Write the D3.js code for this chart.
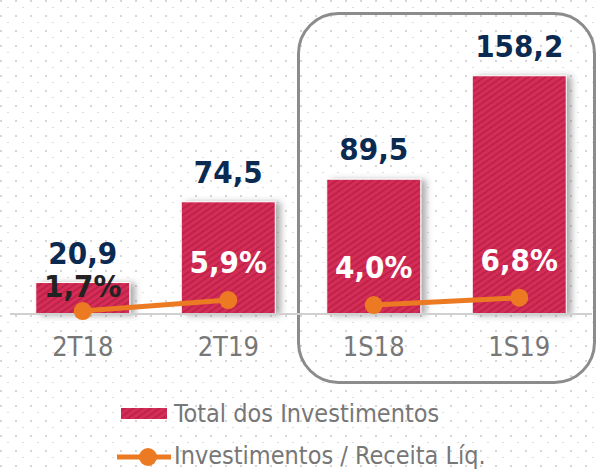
<!DOCTYPE html>
<html>
<head>
<meta charset="utf-8">
<script src="https://cdn.jsdelivr.net/npm/d3@7"></script>
<style>
  body { margin: 0; background: #fff; }
  text { font-family: "DejaVu Sans Condensed", "DejaVu Sans", sans-serif; font-stretch: condensed; }
</style>
</head>
<body>
<div id="chart-area"></div>
<script>

//**************** Data *****************//

let categories = ['2T18', '2T19', '1S18', '1S19'];
let periods = ['T', 'T', 'S', 'S'];
let investimentos = [20.9, 74.5, 89.5, 158.2];
let investLabels = ['20,9', '74,5', '89,5', '158,2'];
let ratio = [1.7, 5.9, 4.0, 6.8];
let ratioLabels = ['1,7%', '5,9%', '4,0%', '6,8%'];
let legendLabels = ['Total dos Investimentos', 'Investimentos / Receita Líq.'];

let data = categories.map((c, i) => ({
	cat: c, period: periods[i], value: investimentos[i],
	label: investLabels[i], pct: ratio[i], pctLabel: ratioLabels[i]
}));


//**************** Canvas *****************//

let width = 597, height = 470;
let baseline = 314;

let svg = d3.select('#chart-area').append('svg')
	.attr('width', width)
	.attr('height', height);

let defs = svg.append('defs');

// dotted background
let dots = defs.append('pattern')
	.attr('id', 'dots')
	.attr('patternUnits', 'userSpaceOnUse')
	.attr('width', 15).attr('height', 15);
dots.append('rect').attr('x', 0).attr('y', 0).attr('width', 2).attr('height', 2).attr('fill', '#d6d6d6');
dots.append('rect').attr('x', 7).attr('y', 7).attr('width', 2).attr('height', 1).attr('fill', '#dedede');

// striped bar fill
let stripes = defs.append('pattern')
	.attr('id', 'stripes')
	.attr('patternUnits', 'userSpaceOnUse')
	.attr('width', 5).attr('height', 5)
	.attr('patternTransform', 'rotate(-35)');
stripes.append('rect').attr('width', 5).attr('height', 5).attr('fill', '#d52d56');
stripes.append('rect').attr('width', 5).attr('height', 2).attr('fill', '#be234b');

let shadow = defs.append('filter')
	.attr('id', 'shadow')
	.attr('x', '-20%').attr('y', '-20%')
	.attr('width', '150%').attr('height', '140%');
shadow.append('feDropShadow')
	.attr('dx', 5).attr('dy', 1)
	.attr('stdDeviation', 3)
	.attr('flood-color', '#444')
	.attr('flood-opacity', 0.45);

svg.append('rect')
	.attr('width', width).attr('height', height)
	.attr('fill', 'url(#dots)');


//**************** Scales *****************//

let x = d3.scaleBand()
	.domain(categories)
	.range([10, 592])
	.paddingInner(0.354)
	.paddingOuter(0.177);

let y = d3.scaleLinear()
	.domain([0, 170])
	.range([baseline, 58]);

let y2 = d3.scaleLinear()
	.domain([0, 10])
	.range([315.5, 289.3]);


// highlight box around the semesters
svg.append('rect')
	.attr('x', 298.5).attr('y', 13.5)
	.attr('width', 296).attr('height', 369)
	.attr('rx', 40).attr('ry', 40)
	.attr('fill', 'none')
	.attr('stroke', '#8c8c8c')
	.attr('stroke-width', 3);


//**************** Bars *****************//

svg.append('g').selectAll('rect')
	.data(data)
	.enter().append('rect')
		.attr('x', d => x(d.cat))
		.attr('y', d => y(d.value))
		.attr('width', x.bandwidth())
		.attr('height', d => baseline - y(d.value))
		.attr('fill', 'url(#stripes)')
		.attr('stroke', '#fff')
		.attr('stroke-width', 1)
		.attr('filter', 'url(#shadow)');

// axis line
let xAxisCall = d3.axisBottom(x).tickSize(0).tickPadding(23);
let xAxisGroup = svg.append('g')
	.attr('transform', 'translate(0, ' + baseline + ')')
	.call(xAxisCall);
xAxisGroup.select('.domain')
	.attr('d', 'M10,0H592')
	.attr('stroke', '#d0d0d0')
	.attr('stroke-width', 2);
xAxisGroup.selectAll('text')
	.attr('font-size', '27px')
	.attr('fill', '#777')
	.attr('dy', '0.71em');
xAxisGroup.attr('font-family', null).attr('font-size', null);


//**************** Line *****************//

let line = d3.line()
	.x(d => x(d.cat) + x.bandwidth() / 2)
	.y(d => y2(d.pct));

let groups = d3.groups(data, d => d.period);

svg.append('g').selectAll('path')
	.data(groups)
	.enter().append('path')
		.attr('d', g => line(g[1]))
		.attr('fill', 'none')
		.attr('stroke', '#ec7a22')
		.attr('stroke-width', 5);

svg.append('g').selectAll('circle')
	.data(data)
	.enter().append('circle')
		.attr('cx', d => x(d.cat) + x.bandwidth() / 2)
		.attr('cy', d => y2(d.pct))
		.attr('r', 9)
		.attr('fill', '#ec7a22');


//**************** Labels *****************//

svg.append('g').selectAll('text')
	.data(data)
	.enter().append('text')
		.attr('x', d => x(d.cat) + x.bandwidth() / 2)
		.attr('y', d => y(d.value) - 19)
		.attr('text-anchor', 'middle')
		.attr('font-size', '31px')
		.attr('font-weight', 'bold')
		.attr('fill', '#0b2a52')
		.text(d => d.label);

svg.append('g').selectAll('text')
	.data(data)
	.enter().append('text')
		.attr('x', d => x(d.cat) + x.bandwidth() / 2)
		.attr('y', (d, i) => y2(d.pct) - (i === 0 ? 14 : 27))
		.attr('text-anchor', 'middle')
		.attr('font-size', '31px')
		.attr('font-weight', 'bold')
		.attr('fill', (d, i) => i === 0 ? '#222' : '#fff')
		.text(d => d.pctLabel);


//**************** Legend *****************//

let legend = svg.append('g');

legend.append('rect')
	.attr('x', 121).attr('y', 408)
	.attr('width', 46).attr('height', 11)
	.attr('fill', 'url(#stripes)');

legend.append('line')
	.attr('x1', 117).attr('x2', 171)
	.attr('y1', 457).attr('y2', 457)
	.attr('stroke', '#ec7a22')
	.attr('stroke-width', 5);

legend.append('circle')
	.attr('cx', 148).attr('cy', 457)
	.attr('r', 9)
	.attr('fill', '#ec7a22');

legend.selectAll('text.leg')
	.data(legendLabels)
	.enter().append('text')
		.attr('class', 'leg')
		.attr('x', 174)
		.attr('y', (d, i) => 422 + i * 42)
		.attr('font-size', '25px')
		.attr('fill', '#777')
		.text(d => d);

</script>
</body>
</html>
